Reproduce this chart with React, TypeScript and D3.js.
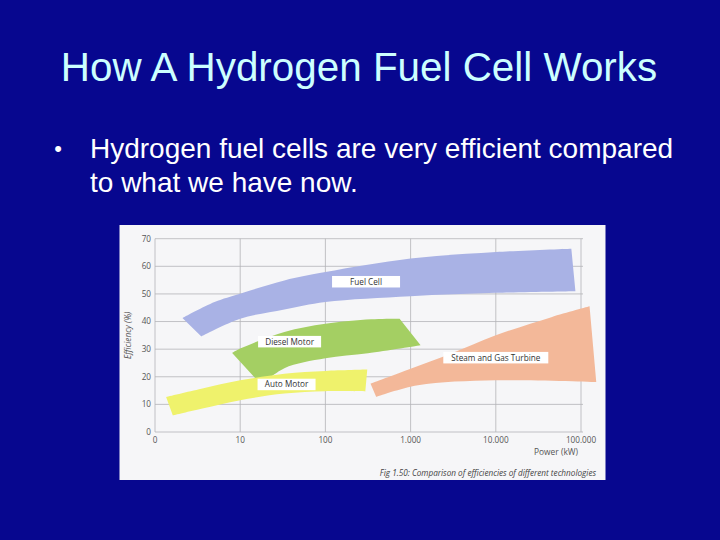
import React from "react";
import * as d3 from "d3";

const TITLE = "How A Hydrogen Fuel Cell Works";
const BULLET_LINES = ["Hydrogen fuel cells are very efficient compared", "to what we have now."];

const yTicks = [0, 10, 20, 30, 40, 50, 60, 70];
const xTicks = [1, 10, 100, 1000, 10000, 100000];
const xTickLabels = ["0", "10", "100", "1.000", "10.000", "100.000"];

type P = [number, number];
// [power kW, efficiency %]
const fuelCellUpper: P[] = [[2.1, 41.3], [5, 47.1], [10, 50.1], [33, 54.9], [100, 57.9], [1000, 62.8], [10000, 65.2], [77000, 66.4]];
const fuelCellLower: P[] = [[3.5, 34.6], [10, 41.0], [33, 44.4], [100, 47.1], [1000, 49.2], [10000, 50.4], [86000, 51.0]];
const dieselUpper: P[] = [[8.05, 28.6], [10, 30.2], [33, 36.2], [100, 39.2], [345, 40.8], [743, 41.0]];
const dieselLower: P[] = [[17.7, 17.1], [33, 23.1], [100, 26.7], [316, 28.5], [1310, 31.4]];
const autoUpper: P[] = [[1.35, 12.7], [3.5, 15.7], [10, 18.7], [33, 21.1], [100, 22.1], [310, 22.6]];
const autoLower: P[] = [[1.62, 6.0], [3.5, 8.4], [10, 11.5], [33, 13.9], [100, 14.8], [294, 14.7]];
const steamUpper: P[] = [[339, 17.5], [1000, 22.9], [3000, 28.4], [10000, 35.0], [44900, 41.6], [126000, 45.5]];
const steamLower: P[] = [[395, 12.7], [1220, 16.9], [10000, 18.7], [151000, 18.1]];

const bandNames = ["Fuel Cell", "Diesel Motor", "Auto Motor", "Steam and Gas Turbine"];
const bandColors = ["#a9b2e5", "#a4cf63", "#eff26c", "#f3b899"];
// label anchor [power, efficiency]
const labelAnchors: P[] = [[300, 54.4], [38, 32.7], [35, 17.2], [10000, 26.9]];
const labelWidths = [68, 63, 58, 105];

const bands = [
  [fuelCellUpper, fuelCellLower],
  [dieselUpper, dieselLower],
  [autoUpper, autoLower],
  [steamUpper, steamLower],
];

export default function App() {
  const W = 720, H = 540;
  const x = d3.scaleLog().domain([1, 100000]).range([155, 581]);
  const y = d3.scaleLinear().domain([0, 70]).range([432, 238.7]);
  const line = d3.line<P>().x(d => x(d[0])).y(d => y(d[1])).curve(d3.curveCatmullRom.alpha(0.5));
  const bandPath = (up: P[], lo: P[]) => {
    const a = line(up) || "";
    const b = (line([...lo].reverse()) || "").replace(/^M/, "L");
    return a + b + "Z";
  };
  const chartFont = "'Open Sans', 'DejaVu Sans', sans-serif";
  const slideFont = "'Liberation Sans', Arial, sans-serif";
  return (
    <svg width={W} height={H} style={{ position: "absolute", left: 0, top: 0, display: "block" }}>
      <rect x={0} y={0} width={W} height={H} fill="#07078f" />
      <text x={359} y={81} textAnchor="middle" fill="#ccffff" fontFamily={slideFont} fontSize={40.4}>{TITLE}</text>
      <text x={58} y={156} textAnchor="middle" fill="#ffffff" fontFamily={slideFont} fontSize={22}>•</text>
      {BULLET_LINES.map((t, i) => (
        <text key={i} x={90} y={158 + i * 34} fill="#ffffff" fontFamily={slideFont} fontSize={28}>{t}</text>
      ))}
      {/* chart photo */}
      <rect x={119.5} y={225} width={486} height={255} fill="#f6f6f8" />
      {/* grid */}
      <g stroke="#b4b4b8" strokeWidth={0.8} fill="none">
        {yTicks.map(t => (
          <line key={"h" + t} x1={x(1)} x2={x(100000) + 2} y1={y(t)} y2={y(t)} />
        ))}
        {xTicks.map(t => (
          <line key={"v" + t} x1={x(t)} x2={x(t)} y1={y(0)} y2={y(70)} />
        ))}
      </g>
      {bands.map((b, i) => (
        <path key={i} d={bandPath(b[0], b[1])} fill={bandColors[i]} />
      ))}
      {bandNames.map((n, i) => (
        <g key={n}>
          <rect x={x(labelAnchors[i][0]) - labelWidths[i] / 2} y={y(labelAnchors[i][1]) - 5.8} width={labelWidths[i]} height={11.5} fill="#ffffff" />
          <text x={x(labelAnchors[i][0])} y={y(labelAnchors[i][1]) + 2.9} textAnchor="middle" fontFamily={chartFont} fontSize={8.2} fill="#333">{n}</text>
        </g>
      ))}
      {yTicks.map(t => (
        <text key={"yt" + t} x={151} y={y(t) + 2.9} textAnchor="end" fontFamily={chartFont} fontSize={8.2} fill="#555">{t}</text>
      ))}
      {xTicks.map((t, i) => (
        <text key={"xt" + t} x={x(t)} y={443} textAnchor="middle" fontFamily={chartFont} fontSize={8.2} fill="#555">{xTickLabels[i]}</text>
      ))}
      <text transform={`translate(130.5,${y(35)}) rotate(-90)`} textAnchor="middle" fontFamily={chartFont} fontSize={8.3} fontStyle="italic" fill="#555">Efficiency (%)</text>
      <text x={578} y={455} textAnchor="end" fontFamily={chartFont} fontSize={8.4} fill="#555">Power (kW)</text>
      <text x={596} y={475.5} textAnchor="end" fontFamily={chartFont} fontSize={8.2} fontStyle="italic" fill="#444">Fig 1.50:  Comparison of efficiencies of different technologies</text>
    </svg>
  );
}
